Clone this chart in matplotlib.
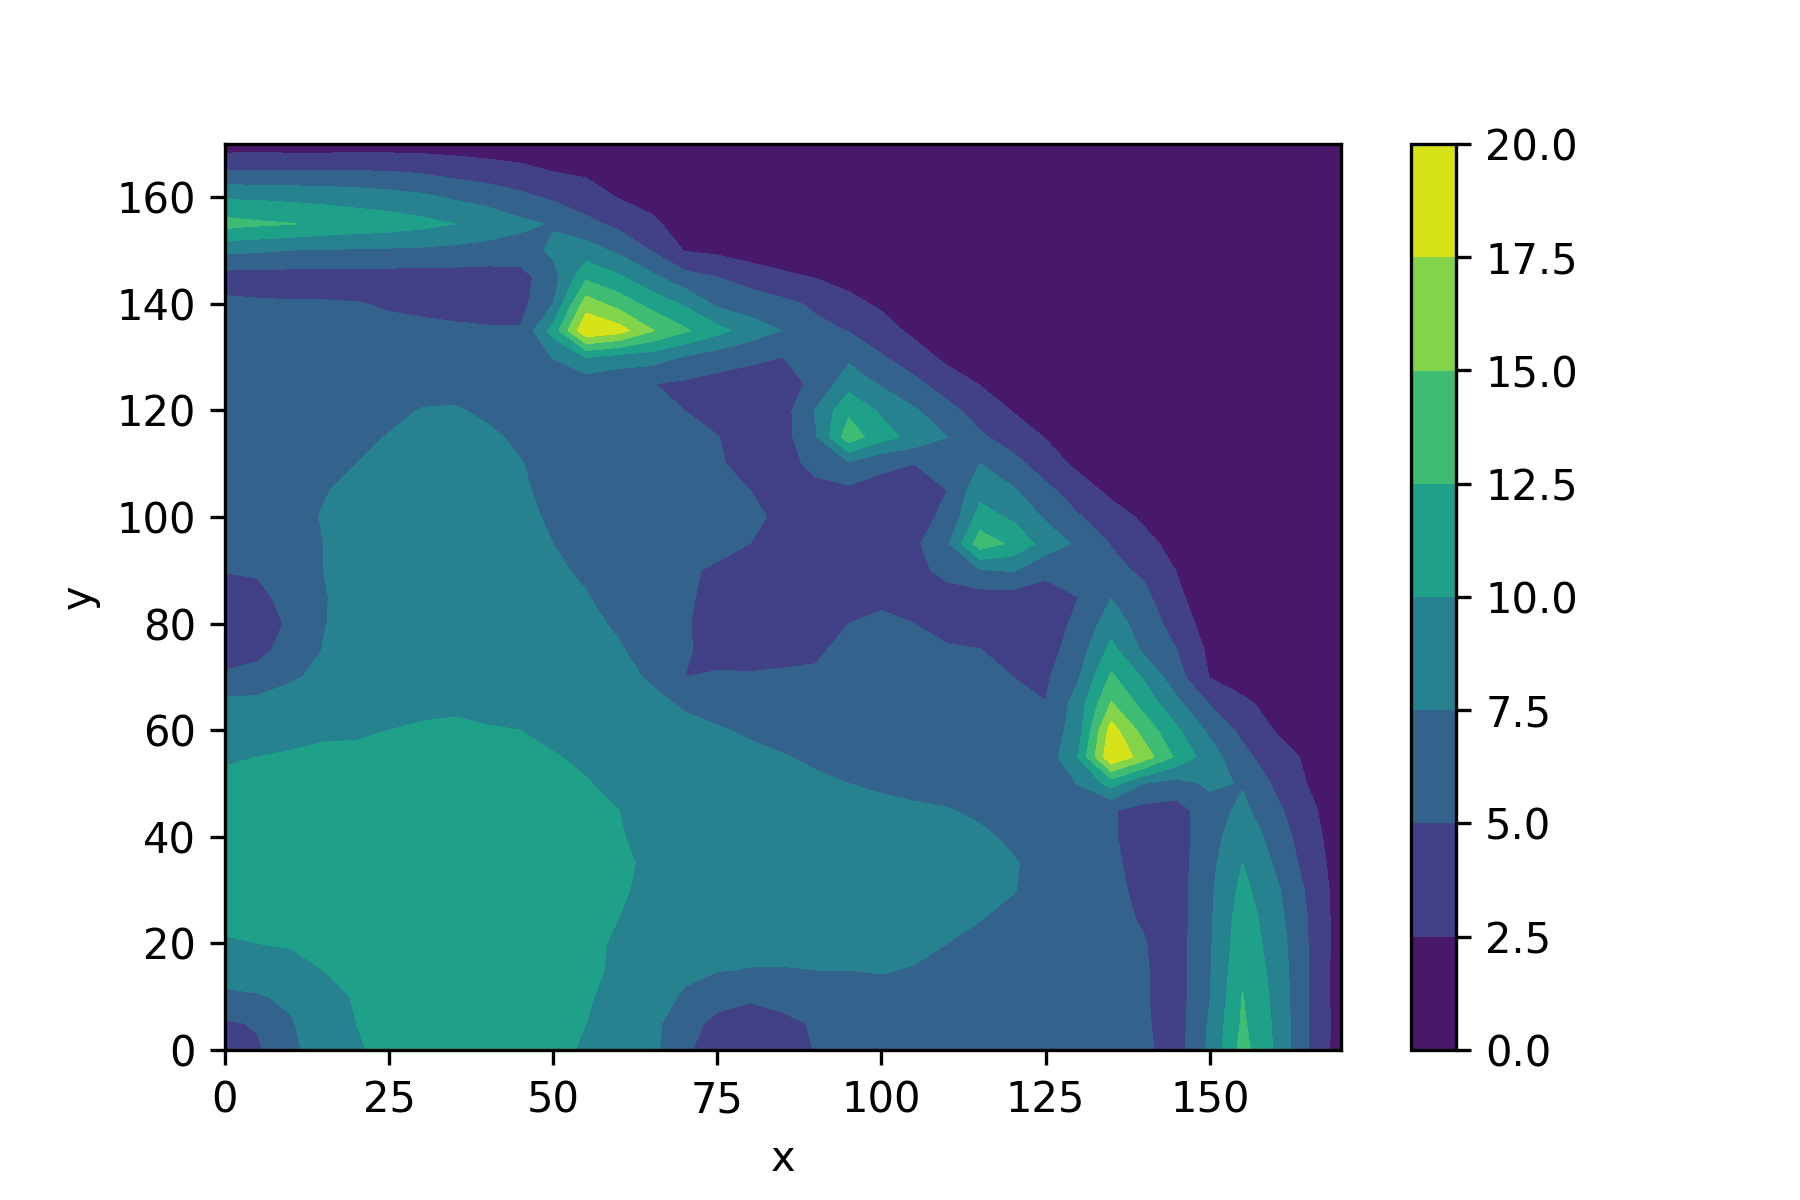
import numpy as np
import matplotlib
matplotlib.use('Agg')
import matplotlib.pyplot as plt

step = 5
coords = np.arange(0, 175, step)
levels = [0, 2.5, 5, 7.5, 10, 12.5, 15, 17.5, 20]

# field is symmetric about x=y, each list runs from y=x up to y=170
col_0 = [4.4,4.7,7.0,8.6,9.8,10.5,11,11.2,11.2,11,10.6,9.7,8.9,8.2,5.3,4.1,3.7,4,5.1,5.6,5.9,6.1,6.2,6.2,6.2,6.2,6.1,5.8,5.5,3.9,8.0,13.4,9.7,5,1.2]
col_5 = [5.2,7.3,8.8,10,10.6,11,11.3,11.3,11.2,10.8,10,9.2,8.3,5.7,4.5,4,4.3,5.3,5.8,6.2,6.4,6.4,6.4,6.3,6.3,6.1,5.8,5.3,3.9,7.8,12.9,9.6,5,1.3]
col_10 = [7.9,9.2,10.2,10.8,11.2,11.5,11.5,11.4,11,10.2,9.4,8.5,7.2,5.7,5.3,6,6.6,6.7,6.9,7,6.9,6.7,6.5,6.3,6.1,5.7,5.2,3.9,7.4,12.6,9.4,5,1.2]
col_15 = [10,10.6,11.1,11.5,11.8,11.8,11.7,11.3,10.5,9.6,8.8,8,7.6,7.4,7.4,7.5,7.5,7.6,7.4,7.1,6.8,6.5,6.3,6,5.7,5.2,3.9,7.3,12,9.2,5,1.2]
col_20 = [11,11.3,11.7,12,12.1,12,11.6,10.5,9.7,9.2,8.8,8.5,8.3,8.1,8,8,8,7.9,7.5,7,6.6,6.3,6,5.6,5.1,3.9,7.2,11.6,8.9,5,1.3]
col_25 = [11.5,11.9,12.1,12.2,12.1,11.6,10.9,10,9.5,9.1,8.9,8.7,8.5,8.4,8.3,8.3,8.2,8,7.6,7,6.5,6.1,5.5,4.8,3.9,7.1,11.3,8.5,4.9,1.3]
col_30 = [12,12.3,12.3,12.2,11.6,11,10.2,9.6,9.2,9,8.9,8.8,8.7,8.6,8.5,8.4,8.3,8.1,7.6,6.7,6.1,5.4,4.6,3.9,7,10.7,8,4.6,1.3]
col_35 = [12.3,12.3,12,11.5,11,10.3,9.7,9.3,9,8.9,8.8,8.8,8.7,8.7,8.6,8.4,8.2,7.7,6.7,6,5.3,4.4,3.9,6.8,10,7.2,4,1.3]
col_40 = [12.1,11.8,11.3,10.7,10.1,9.6,9.2,9,8.8,8.7,8.6,8.5,8.5,8.3,8.2,7.9,7.1,6.5,5.9,5.2,4.2,3.9,6.5,9.1,6.6,3.5,1.2]
col_45 = [11.5,11,10.5,10,9.5,9.1,8.8,8.6,8.4,8.3,8.1,8,7.8,7.6,7.1,6.7,6.2,5.7,5.2,4.2,4.1,6.3,8.1,5.6,3.1,1]
col_50 = [10.5,10.1,9.6,9.2,8.8,8.5,8.3,8,7.8,7.5,7.2,6.9,6.7,6.5,6.3,6.2,7.6,11,7.5,6.5,8,7.3,4.6,2.4,0.9]
col_55 = [9.7,9.4,9,8.5,8.2,8,7.6,7.2,6.8,6.5,6.4,6.3,6.3,6.3,5.9,10.1,19.8,16.3,12,8.6,5.7,3.6,2.1,0.8]
col_60 = [9,8.7,8.2,7.7,7.2,6.8,6.2,5.9,5.9,6,6,5.9,5.7,5.5,9,18.6,14,10.4,7,4.4,2.4,1.4,0.6]
col_65 = [8.1,7.2,6.7,6.2,5.7,5.5,5.4,5.3,5.5,5.5,5.4,5.3,5.05,8.6,15.2,11.6,8.1,4.9,2.9,1.8,1,0.5]
col_70 = [5,5.1,5.1,5.1,5.1,5.2,5.4,5.5,5.5,5.3,5,4.6,7.3,12.9,9.7,5.9,2.4,1.6,1.2,0.8,0.4]
col_75 = [4.7,4.6,4.8,4.9,5.2,5.3,5.3,5.1,5.05,4.4,4.1,6.2,10.8,7,5,2,1.4,1,0.6,0.3]
col_80 = [4.4,4.5,4.7,5,5.2,5,4.7,4.3,4.1,4.1,5.4,8.9,6.2,4.1,1.2,0.9,0.7,0.5,0.2]
col_85 = [4.2,4.3,4.5,4.8,4.5,4.2,4,4,4.1,5,7.4,5.6,3,1,0.7,0.5,0.3,0.2]
col_90 = [4.1,4.2,4.3,4.4,5.6,7.3,7.7,5.5,5.2,5.6,4.6,2.4,0.7,0.5,0.4,0.2,0.1]
col_95 = [4.2,4.3,4.5,7,13.9,12,9,7,4.9,3.2,1.7,0.5,0.4,0.3,0.2,0.1]
col_100 = [4.4,4.5,5.3,11,9.6,7.2,5.2,3.6,2.1,1,0.4,0.3,0.2,0.1,0.1]
col_105 = [4.5,5,9.2,7.8,5.6,3.7,1.9,1,0.5,0.3,0.2,0.1,0.1,0.1]
col_110 = [5.5,7.5,5.8,3.8,1.9,1.1,0.7,0.4,0.3,0.2,0.1,0.1,0.1]
col_115 = [5.4,3.9,2.4,1.2,0.8,0.5,0.3,0.2,0.1,0.1,0.1,0.1]
col_120 = [2.4,1.3,0.8,0.5,0.3,0.2,0.1,0.1,0.1,0.1,0.1]
col_125 = [0.9,0.6,0.4,0.3,0.2,0.1,0.1,0.1,0.1,0.1]
col_130 = [0.5,0.3,0.2,0.2,0.1,0.1,0.1,0.1,0.1]
col_135 = [0.3,0.2,0.2,0.1,0.1,0.1,0.1,0.1]
col_140 = [0.2,0.2,0.1,0.1,0.1,0.1,0.1]
col_145 = [0.2,0.1,0.1,0.1,0.1,0.1]
col_150 = [0.1,0.1,0.1,0.1,0.1]
col_155 = [0.1,0.1,0.1,0.1]
col_160 = [0.1,0.1,0.1]
col_165 = [0.1,0.1]
col_170 = [0.1]

columns = [col_0, col_5, col_10, col_15, col_20, col_25, col_30, col_35, col_40,
           col_45, col_50, col_55, col_60, col_65, col_70, col_75, col_80, col_85,
           col_90, col_95, col_100, col_105, col_110, col_115, col_120, col_125,
           col_130, col_135, col_140, col_145, col_150, col_155, col_160, col_165,
           col_170]

Z = np.zeros((len(coords), len(coords)))
for i, col in enumerate(columns):
    Z[i:, i] = col
    Z[i, i:] = col

fig = plt.figure(figsize=(6, 4), dpi=300)
fig.subplots_adjust(bottom=0.125)
cs = plt.contourf(coords, coords, Z, levels=levels, vmin=0, vmax=20)
plt.colorbar(cs)
plt.xlabel('x')
plt.ylabel('y')
plt.savefig('out.png')
